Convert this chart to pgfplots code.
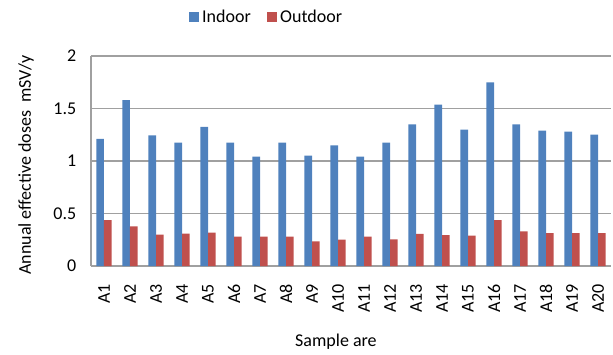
\documentclass[border=0pt]{standalone}
\usepackage{fontspec}
\setmainfont{Carlito}
\usepackage{pgfplots}
\pgfplotsset{compat=1.18}
\definecolor{cblue}{HTML}{4F81BD}
\definecolor{cred}{HTML}{C0504D}
\definecolor{cgrid}{HTML}{A0A0A0}
\begin{document}
\begin{tikzpicture}[font=\fontsize{13.5}{16}\selectfont]
\begin{axis}[
 at={(0pt,0pt)}, anchor=south west, scale only axis,
 width=390pt, height=157.5pt,
 ybar=0pt, bar width=5.8pt,
 xmin=-0.5, xmax=19.5, ymin=0, ymax=2,
 xtick={0,...,19},
 xticklabels={A1,A2,A3,A4,A5,A6,A7,A8,A9,A10,A11,A12,A13,A14,A15,A16,A17,A18,A19,A20},
 ytick={0,0.5,1,1.5,2},
 yticklabels={0,0.5,1,1.5,2},
 major tick length=0pt,
 axis x line*=bottom, axis y line*=left,
 axis line style={cgrid, line width=0.8pt},
 ymajorgrids, grid style={cgrid, line width=0.8pt},
 xticklabel style={rotate=90, anchor=east, yshift=0pt, xshift=-10pt},
 yticklabel style={xshift=-7.5pt},
 every axis y label/.style={at={(axis description cs:-0.125,0.48)}, rotate=90, anchor=center},
 every axis x label/.style={at={(axis description cs:0.471,-0.362)}, anchor=center},
 ylabel={Annual effective doses\ \ mSV/y},
 xlabel={Sample are},
 legend columns=2,
 legend style={at={(axis description cs:0.338,1.186)}, anchor=center, draw=none, fill=none},
 legend image code/.code={\fill[#1] (0pt,-4pt) rectangle (8pt,4pt);},
]
\addplot[fill=cblue, draw=none] coordinates {
(0,1.21) (1,1.58) (2,1.244) (3,1.175) (4,1.324) (5,1.175) (6,1.041) (7,1.175) (8,1.051) (9,1.148)
(10,1.041) (11,1.175) (12,1.349) (13,1.537) (14,1.298) (15,1.749) (16,1.349) (17,1.289) (18,1.279) (19,1.251)};
\addlegendentry{Indoor\kern10pt}
\addplot[fill=cred, draw=none] coordinates {
(0,0.438) (1,0.378) (2,0.298) (3,0.308) (4,0.317) (5,0.279) (6,0.279) (7,0.279) (8,0.235) (9,0.252)
(10,0.279) (11,0.254) (12,0.305) (13,0.295) (14,0.289) (15,0.438) (16,0.33) (17,0.314) (18,0.314) (19,0.314)};
\addlegendentry{Outdoor}
\end{axis}
\path[use as bounding box] (-68.25pt,-66pt) rectangle (391.5pt,199.5pt);
\end{tikzpicture}
\end{document}
